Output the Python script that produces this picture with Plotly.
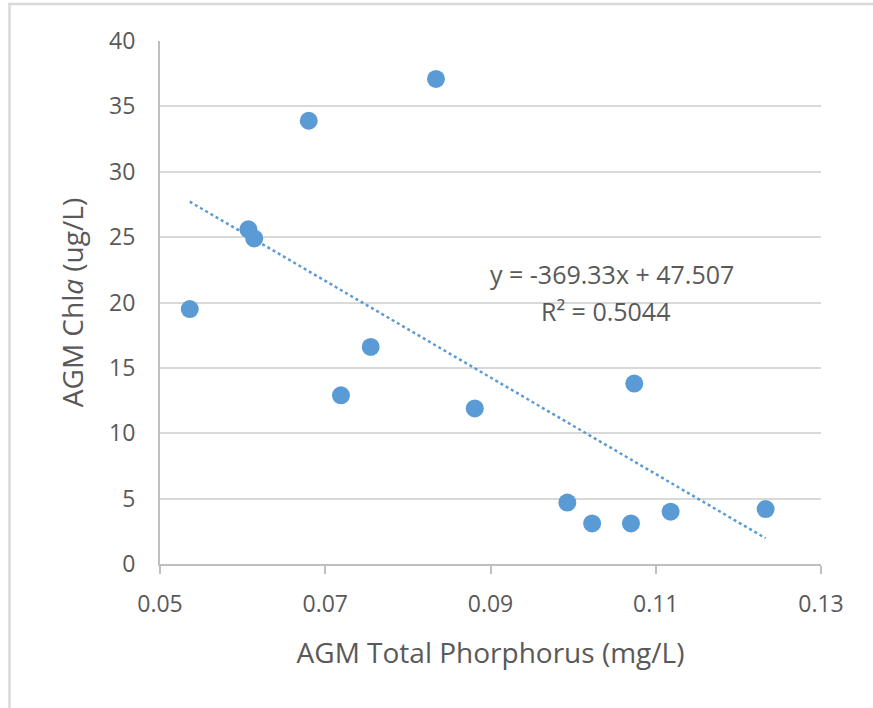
import plotly.graph_objects as go

tp = [0.0536, 0.0607, 0.0614, 0.0680, 0.0719, 0.0755, 0.0834, 0.0881,
      0.0993, 0.1023, 0.1070, 0.1074, 0.1118, 0.1233]
chla = [19.5, 25.6, 24.9, 33.9, 12.9, 16.6, 37.1, 11.9,
        4.7, 3.1, 3.1, 13.8, 4.0, 4.2]
slope = -369.33
intercept = 47.507
r2 = 0.5044
x_ticks = [0.05, 0.07, 0.09, 0.11, 0.13]
x_ticklabels = ["0.05", "0.07", "0.09", "0.11", "0.13"]
y_ticks = [0, 5, 10, 15, 20, 25, 30, 35, 40]

blue = "#5b9bd5"
txt = "#595959"
font = "Open Sans"
fs_tick = 23
fs_title = 28
fs_ann = 25

xmin, xmax = min(tp), max(tp)
trend_x = [xmin, xmax]
trend_y = [slope * v + intercept for v in trend_x]

fig = go.Figure()
fig.add_trace(go.Scatter(x=trend_x, y=trend_y, mode="lines",
                         line=dict(color=blue, width=2.5, dash="dot"),
                         hoverinfo="skip", showlegend=False))
fig.add_trace(go.Scatter(x=tp, y=chla, mode="markers",
                         marker=dict(color=blue, size=18, line=dict(width=0)),
                         showlegend=False))

W, H = 873, 708
L, R, T, B = 160, 52, 41, 144
pw, ph = W - L - R, H - T - B

def px(x):
    return (x - L) / pw

def py(y):
    return (H - B - y) / ph

fig.add_annotation(x=px(612), y=py(274), xref="paper", yref="paper",
                   xanchor="center", yanchor="middle",
                   text=f"y = {slope:.2f}x + {intercept:.3f}", showarrow=False,
                   font=dict(family=font, size=fs_ann, color=txt))
fig.add_annotation(x=px(605), y=py(311), xref="paper", yref="paper",
                   xanchor="center", yanchor="middle",
                   text=f"R² = {r2:.4f}", showarrow=False,
                   font=dict(family=font, size=fs_ann, color=txt))

fig.add_shape(type="rect", xref="paper", yref="paper",
              x0=px(9.5), x1=px(900), y0=py(730), y1=py(4),
              line=dict(color="#d9d9d9", width=2.5), fillcolor="rgba(0,0,0,0)",
              layer="below")

fig.update_layout(
    width=W, height=H,
    margin=dict(l=L, r=R, t=T, b=B),
    paper_bgcolor="white", plot_bgcolor="white",
    font=dict(family=font, size=fs_tick, color=txt),
    xaxis=dict(range=[0.05, 0.13], tickvals=x_ticks, ticktext=x_ticklabels,
               showgrid=False, zeroline=False,
               showline=True, linecolor="#bfbfbf", linewidth=2,
               ticks="outside", ticklen=8, tickcolor="#bfbfbf", tickwidth=2,
               ticklabelstandoff=10,
               title=dict(text="AGM Total Phorphorus (mg/L)", standoff=26,
                          font=dict(family=font, size=fs_title, color=txt)),
               tickfont=dict(family=font, size=fs_tick, color=txt)),
    yaxis=dict(range=[0, 40], tickvals=y_ticks,
               showgrid=True, gridcolor="#d9d9d9", gridwidth=2,
               zeroline=False, showline=True, linecolor="#bfbfbf", linewidth=2,
               ticks="", ticklabelstandoff=18,
               title=dict(text="AGM Chl<i>a</i> (ug/L)", standoff=17,
                          font=dict(family=font, size=fs_title, color=txt)),
               tickfont=dict(family=font, size=fs_tick, color=txt)),
)

fig.write_html("out.html")
